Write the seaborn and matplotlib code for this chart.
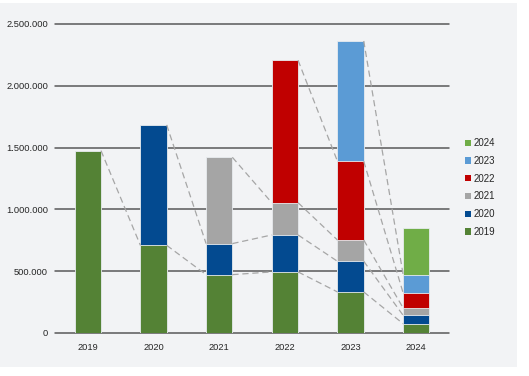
import numpy as np
import pandas as pd
import matplotlib
matplotlib.use("Agg")
import matplotlib.pyplot as plt
import seaborn as sns
from matplotlib.patches import Patch, Rectangle
from matplotlib.ticker import FuncFormatter

# dados (valor de cada coorte em cada ano)
anos = ["2019", "2020", "2021", "2022", "2023", "2024"]
coortes = ["2019", "2020", "2021", "2022", "2023", "2024"]
c2019 = [1475000, 709000, 472000, 494000, 332000, 75000]
c2020 = [0, 974000, 251000, 299000, 248000, 68000]
c2021 = [0, 0, 698000, 261000, 172000, 59000]
c2022 = [0, 0, 0, 1152000, 637000, 122000]
c2023 = [0, 0, 0, 0, 973000, 148000]
c2024 = [0, 0, 0, 0, 0, 378000]
cores = ["#548235", "#034a90", "#a5a5a5", "#c00000", "#5b9bd5", "#70ad47"]

valores = [c2019, c2020, c2021, c2022, c2023, c2024]
df = pd.DataFrame(dict(zip(coortes, valores)), index=anos)
acum = df.cumsum(axis=1)

sns.set_theme(style="white")
plt.rcParams["font.family"] = ["Liberation Sans", "DejaVu Sans"]

fig = plt.figure(figsize=(5.29, 3.76), dpi=100, facecolor="white")
fig.patches.append(Rectangle((0, 0.024), 0.977, 0.968, transform=fig.transFigure,
                             facecolor="#f2f3f5", edgecolor="none", zorder=-10))
ax = fig.add_axes([0.104, 0.1144, 0.745, 0.822])
ax.set_facecolor("none")

largura = 0.4
# barras empilhadas: desenhar acumulados do topo para a base
for i in range(len(coortes) - 1, -1, -1):
    dados = pd.DataFrame({"ano": anos, "valor": acum[coortes[i]].values})
    dados = dados[df[coortes[i]].values > 0]
    sns.barplot(data=dados, x="ano", y="valor", order=anos, color=cores[i],
                saturation=1, width=largura, edgecolor="#e8ecef", linewidth=0.6,
                ax=ax, zorder=3)

# linhas de conexão tracejadas entre topos dos segmentos
for j, c in enumerate(coortes):
    for k in range(len(anos) - 1):
        if df[c].iloc[k] > 0 and df[c].iloc[k + 1] > 0:
            ax.plot([k + largura / 2, k + 1 - largura / 2],
                    [acum[c].iloc[k], acum[c].iloc[k + 1]],
                    color="#a6a6a6", lw=0.9, ls=(0, (5, 3)), zorder=4)

# grade
for y in range(0, 2500001, 500000):
    ax.axhline(y, color="#595959", lw=1.1, zorder=2, clip_on=False)

ax.set_ylim(0, 2500000)
ax.set_xlim(-0.5, 5.5)
ax.set_yticks(range(0, 2500001, 500000))
ax.yaxis.set_major_formatter(FuncFormatter(lambda v, p: f"{int(v):,}".replace(",", ".")))
ax.tick_params(axis="both", length=0, labelsize=6.7, colors="#262626", pad=5)
ax.tick_params(axis="x", pad=7)
ax.set_xlabel("")
ax.set_ylabel("")
sns.despine(ax=ax, left=True, bottom=True, top=True, right=True)

handles = [Patch(facecolor=cores[i], edgecolor="none", label=coortes[i])
           for i in range(len(coortes) - 1, -1, -1)]
fig.legend(handles=handles, loc="upper left", bbox_to_anchor=(0.872, 0.643),
           frameon=False, fontsize=7, handlelength=0.6, handleheight=0.6,
           handletextpad=0.3, labelspacing=0.8, borderaxespad=0)

plt.savefig("out.png", dpi=100, facecolor="white")
